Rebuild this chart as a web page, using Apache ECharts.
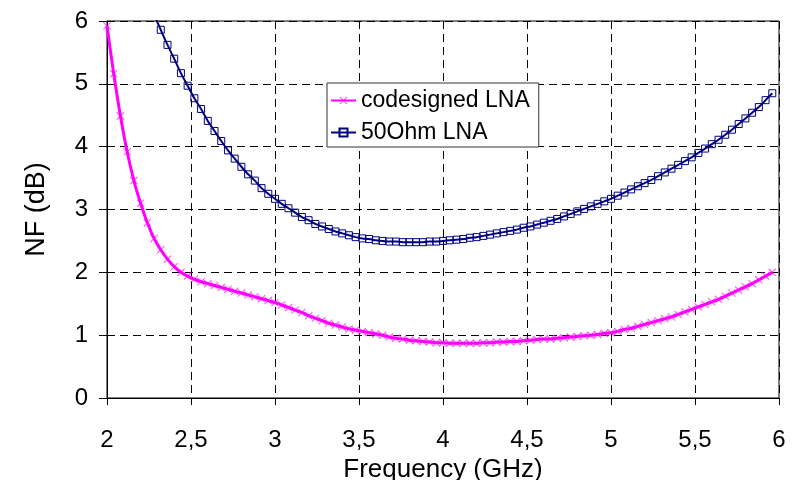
<!DOCTYPE html>
<html>
<head>
<meta charset="utf-8">
<script src="https://cdn.jsdelivr.net/npm/echarts@6/dist/echarts.min.js"></script>
<style>
html, body { margin: 0; padding: 0; background: #fff; }
#nf { width: 796px; height: 480px; }
</style>
</head>
<body>
<div id="nf"></div>
<script>
// sweep: 2.00 .. 5.96 GHz, one sample every 0.04 GHz
var freqStart = 2.0;
var freqStep = 0.04;

// NF (dB) of the codesigned LNA, one value per sample
var nfCodesigned = [
  5.92, 5.16, 4.49, 3.92, 3.46, 3.10, 2.79, 2.54, 2.36, 2.21,
  2.09, 2.00, 1.94, 1.89, 1.85, 1.82, 1.79, 1.76, 1.73, 1.70,
  1.67, 1.64, 1.61, 1.58, 1.55, 1.52, 1.48, 1.44, 1.40, 1.36,
  1.31, 1.27, 1.23, 1.19, 1.16, 1.13, 1.10, 1.08, 1.06, 1.04,
  1.02, 1.00, 0.97, 0.95, 0.94, 0.92, 0.91, 0.90, 0.89, 0.88,
  0.88, 0.87, 0.87, 0.87, 0.87, 0.87, 0.88, 0.88, 0.89, 0.89,
  0.90, 0.90, 0.91, 0.92, 0.93, 0.94, 0.94, 0.95, 0.96, 0.97,
  0.98, 0.99, 1.00, 1.01, 1.03, 1.04, 1.06, 1.09, 1.11, 1.14,
  1.17, 1.20, 1.23, 1.26, 1.29, 1.33, 1.37, 1.41, 1.45, 1.49,
  1.53, 1.57, 1.62, 1.67, 1.72, 1.77, 1.82, 1.88, 1.94, 2.00
];

// NF (dB) of the 50 Ohm LNA (off the top of the chart below 2.28 GHz)
var nf50Ohm = [
  null, null, null, null, null, null, null, 6.10, 5.86, 5.62,
  5.40, 5.17, 4.97, 4.77, 4.60, 4.41, 4.25, 4.09, 3.94, 3.81,
  3.68, 3.56, 3.46, 3.34, 3.25, 3.17, 3.09, 3.02, 2.95, 2.88,
  2.83, 2.77, 2.73, 2.69, 2.65, 2.62, 2.59, 2.56, 2.54, 2.53,
  2.51, 2.50, 2.49, 2.49, 2.48, 2.48, 2.48, 2.48, 2.49, 2.49,
  2.50, 2.51, 2.52, 2.53, 2.55, 2.56, 2.58, 2.60, 2.62, 2.64,
  2.66, 2.68, 2.71, 2.73, 2.76, 2.79, 2.82, 2.85, 2.89, 2.93,
  2.97, 3.01, 3.05, 3.09, 3.13, 3.17, 3.22, 3.27, 3.32, 3.37,
  3.42, 3.47, 3.53, 3.59, 3.65, 3.71, 3.77, 3.83, 3.90, 3.97,
  4.04, 4.11, 4.19, 4.27, 4.36, 4.45, 4.54, 4.63, 4.74, 4.85
];

var seriesNames = ['codesigned LNA', '50Ohm LNA'];

function toPairs(values) {
  var out = [];
  values.forEach(function (v, i) {
    if (v !== null) out.push([+(freqStart + i * freqStep).toFixed(2), v]);
  });
  return out;
}

var font = 'Liberation Sans, Arial, sans-serif';
// small filled "x" marker
var crossPath = 'path://M1,0L5,4L9,0L10,1L6,5L10,9L9,10L5,6L1,10L0,9L4,5L0,1Z';

var gridLine = { show: true, lineStyle: { color: '#000', width: 1, type: [8, 5] } };

var chart = echarts.init(document.getElementById('nf'));
chart.setOption({
  animation: false,
  backgroundColor: '#fff',
  textStyle: { fontFamily: font, color: '#000' },
  grid: {
    left: 107, right: 17, top: 21, bottom: 82,
    show: true, borderColor: '#000', borderWidth: 1,
    outerBoundsMode: 'none'
  },
  legend: {
    orient: 'vertical',
    left: 327, top: 83,
    padding: [6, 9, 3, 3],
    itemGap: 9,
    itemWidth: 25,
    itemHeight: 10,
    backgroundColor: '#fff',
    borderColor: '#333',
    borderWidth: 1,
    borderRadius: 0,
    data: seriesNames,
    textStyle: { fontFamily: font, fontSize: 23, color: '#000' }
  },
  xAxis: {
    type: 'value',
    min: 2, max: 6, interval: 0.5,
    name: 'Frequency (GHz)',
    nameLocation: 'middle',
    nameGap: 53,
    nameTextStyle: { fontFamily: font, fontSize: 26, color: '#000' },
    axisLine: { show: true, onZero: false, lineStyle: { color: '#000', width: 1 } },
    axisTick: { show: true, inside: false, length: 7, lineStyle: { color: '#000' } },
    axisLabel: {
      margin: 30, fontFamily: font, fontSize: 24, color: '#000',
      formatter: function (v) { return String(v).replace('.', ','); }
    },
    splitLine: gridLine
  },
  yAxis: {
    type: 'value',
    min: 0, max: 6, interval: 1,
    name: 'NF (dB)',
    nameLocation: 'middle',
    nameGap: 57,
    nameRotate: 90,
    nameTextStyle: { fontFamily: font, fontSize: 27, color: '#000' },
    axisLine: { show: true, lineStyle: { color: '#000', width: 1 } },
    axisTick: { show: true, inside: false, length: 8, lineStyle: { color: '#000' } },
    axisLabel: { margin: 19, fontFamily: font, fontSize: 24, color: '#000' },
    splitLine: gridLine
  },
  series: [
    {
      name: seriesNames[0],
      type: 'line',
      data: toPairs(nfCodesigned),
      smooth: 0.3,
      clip: true,
      symbol: crossPath,
      symbolSize: 8,
      showAllSymbol: true,
      lineStyle: { color: '#ff00ff', width: 3 },
      itemStyle: { color: '#ff00ff', opacity: 0.65 }
    },
    {
      name: seriesNames[1],
      type: 'line',
      data: toPairs(nf50Ohm),
      smooth: 0.3,
      clip: true,
      symbol: 'rect',
      symbolSize: 7,
      showAllSymbol: true,
      lineStyle: { color: '#000080', width: 2 },
      itemStyle: { color: 'rgba(0,0,0,0)', borderColor: '#000080', borderWidth: 1 }
    }
  ]
});
</script>
</body>
</html>
